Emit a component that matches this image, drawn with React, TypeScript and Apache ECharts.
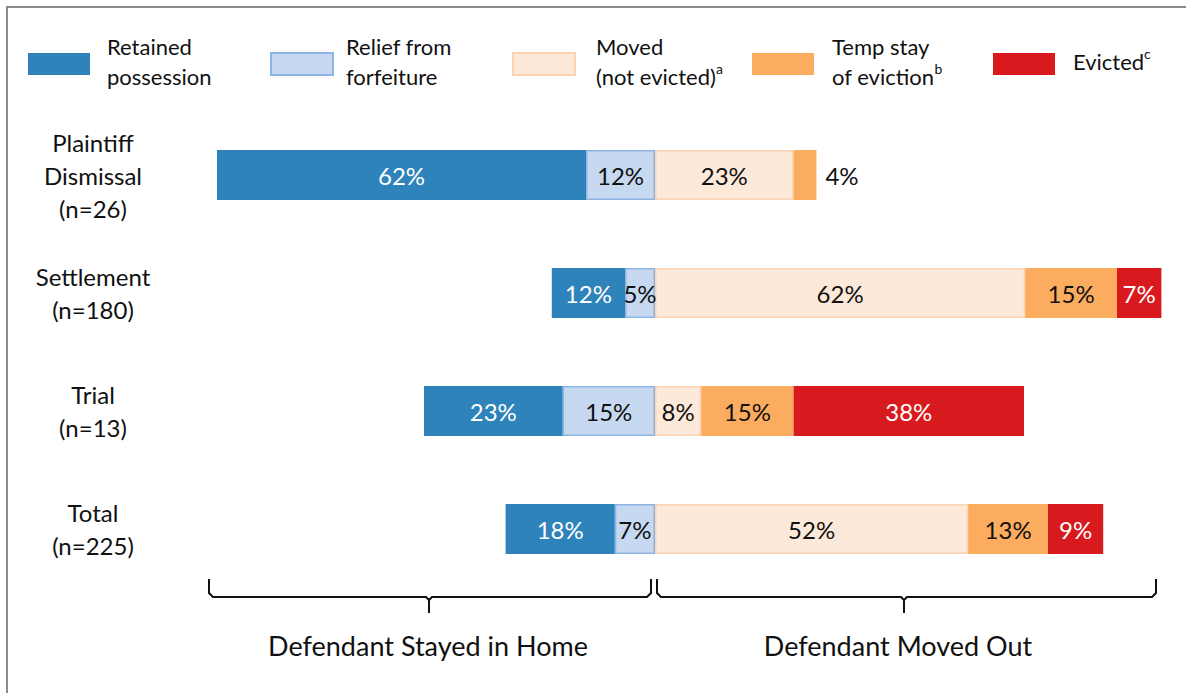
import React, { useEffect, useRef } from "react";
import * as echarts from "echarts";

const categories = [
  "Plaintiff\nDismissal\n(n=26)",
  "Settlement\n(n=180)",
  "Trial\n(n=13)",
  "Total\n(n=225)",
];
// shares in percent (labels show rounded values)
const retained = [61.5, 12.2, 23.1, 18.2];
const relief = [11.5, 5.0, 15.4, 6.7];
const moved = [23.1, 61.7, 7.7, 52.2];
const tempStay = [3.8, 15.3, 15.4, 13.3];
const evicted = [null, 7.4, 38.4, 9.2];

const FONT = "Lato";
const INK = "#111111";

export default function App() {
  const ref = useRef<HTMLDivElement>(null);
  useEffect(() => {
    if (!ref.current) return;
    const chart = echarts.init(ref.current, null, { renderer: "svg" });

    const toData = (arr: (number | null)[], sign: number) =>
      arr.map((v) =>
        v == null
          ? null
          : v < 4.5
          ? { value: sign * v, label: { position: "right", distance: 9, color: INK } }
          : sign * v
      );

    const labelFmt = (p: any) =>
      p.value == null ? "" : Math.round(Math.abs(p.value)) + "%";

    const mkSeries = (
      name: string,
      arr: (number | null)[],
      sign: number,
      color: string,
      labelColor: string,
      borderColor?: string
    ) => ({
      name,
      type: "bar",
      stack: "all",
      barWidth: 50,
      data: toData(arr, sign),
      itemStyle: {
        color,
        borderColor: borderColor || color,
        borderWidth: borderColor ? 1.5 : 0,
      },
      label: {
        show: true,
        position: "inside",
        formatter: labelFmt,
        color: labelColor,
        fontFamily: FONT,
        fontSize: 24,
      },
    });

    const sup = { fontSize: 14, lineHeight: 20, verticalAlign: "top", fontFamily: FONT, color: INK };
    const mkLegend = (name: string, left: number, top: number, pad: number, text: string) => ({
      data: [name],
      left,
      top,
      padding: 0,
      orient: "horizontal",
      itemWidth: 62,
      itemHeight: 22,
      icon: "rect",
      selectedMode: false,
      textStyle: {
        fontFamily: FONT,
        fontSize: 22,
        color: INK,
        lineHeight: 30,
        padding: [0, 0, 6, pad],
        rich: { sup },
      },
      formatter: () => text,
    });

    const bracketStyle = { stroke: "#111", lineWidth: 2, fill: "none" };

    chart.setOption({
      animation: false,
      backgroundColor: "#ffffff",
      legend: [
        mkLegend("Retained possession", 28, 31, 12, "Retained\npossession"),
        mkLegend("Relief from forfeiture", 270, 31, 8, "Relief from\nforfeiture"),
        mkLegend("Moved (not evicted)", 512, 31, 16, "Moved\n(not evicted){sup|a}"),
        mkLegend("Temp stay of eviction", 752, 31, 13, "Temp stay\nof eviction{sup|b}"),
        mkLegend("Evicted", 993, 46, 13, "Evicted{sup|c}"),
      ],
      grid: { left: 205, width: 960, top: 116, height: 472 },
      xAxis: {
        type: "value",
        min: -75,
        max: 85,
        show: false,
      },
      yAxis: {
        type: "category",
        inverse: true,
        data: categories,
        axisLine: { show: false },
        axisTick: { show: false },
        splitLine: { show: false },
        axisLabel: {
          align: "center",
          margin: 112,
          fontFamily: FONT,
          fontSize: 24,
          lineHeight: 33,
          color: INK,
        },
      },
      series: [
        mkSeries("Relief from forfeiture", relief, -1, "#C6D9F1", INK, "#8DB4E2"),
        mkSeries("Retained possession", retained, -1, "#2E83BA", "#ffffff"),
        mkSeries("Moved (not evicted)", moved, 1, "#FDE9DA", INK, "#FAD3B3"),
        mkSeries("Temp stay of eviction", tempStay, 1, "#FBAC5F", INK),
        mkSeries("Evicted", evicted, 1, "#D8191D", "#ffffff"),
      ],
      graphic: [
        {
          type: "polyline",
          shape: { points: [[7, 693], [7, 7], [1186, 7]] },
          style: { stroke: "#8c8c8c", lineWidth: 2, fill: "none" },
          silent: true,
        },
        {
          type: "polyline",
          shape: {
            points: [
              [209, 579], [209, 593], [213, 597], [426, 597], [429, 600], [429, 613],
              [429, 600], [432, 597], [647, 597], [651, 593], [651, 579],
            ],
          },
          style: bracketStyle,
          silent: true,
        },
        {
          type: "polyline",
          shape: {
            points: [
              [657, 579], [657, 593], [661, 597], [901, 597], [904, 600], [904, 613],
              [904, 600], [907, 597], [1152, 597], [1156, 593], [1156, 579],
            ],
          },
          style: bracketStyle,
          silent: true,
        },
        {
          type: "text",
          x: 428,
          y: 645,
          style: {
            text: "Defendant Stayed in Home",
            fontFamily: FONT,
            fontSize: 27,
            fill: INK,
            align: "center",
            verticalAlign: "middle",
          },
        },
        {
          type: "text",
          x: 898,
          y: 645,
          style: {
            text: "Defendant Moved Out",
            fontFamily: FONT,
            fontSize: 27,
            fill: INK,
            align: "center",
            verticalAlign: "middle",
          },
        },
      ],
    });
    return () => chart.dispose();
  }, []);
  return (
    <div
      ref={ref}
      style={{ position: "fixed", left: 0, top: 0, width: 1186, height: 693, background: "#fff" }}
    />
  );
}
